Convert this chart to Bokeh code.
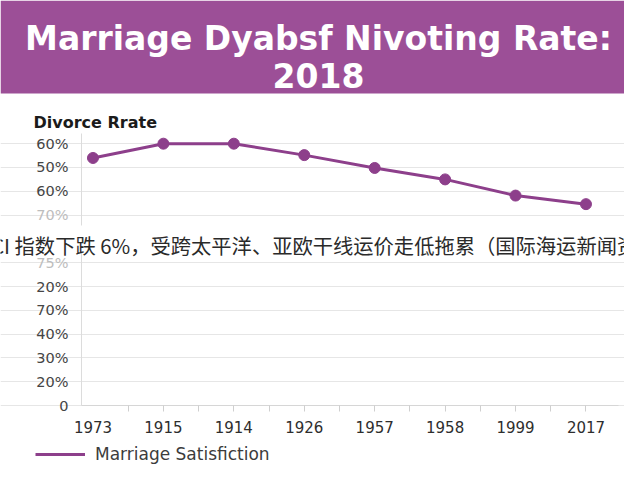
from bokeh.embed import file_html
from bokeh.models import BoxAnnotation, ColumnDataSource, FixedTicker, Label, Range1d
from bokeh.plotting import figure
from bokeh.resources import INLINE

# chart values
years = ["1973", "1915", "1914", "1926", "1957", "1958", "1999", "2017"]
divorce_rate = [52.0, 55.0, 55.0, 52.6, 49.9, 47.5, 44.1, 42.3]

y_ticks = [0, 5, 10, 15, 20, 25, 30, 35, 40, 45, 50, 55]
y_tick_labels = ["0", "20%", "30%", "40%", "70%", "20%", "75%", "80%", "70%", "60%", "50%", "60%"]
faded_ticks = [30, 40]

title_lines = ["Marriage Dyabsf Nivoting Rate:", "2018"]
subtitle = "Divorce Rrate"
series_name = "Marriage Satisfiction"
news_line = "WCI 指数下跌 6%，受跨太平洋、亚欧干线运价走低拖累（国际海运新闻资讯）"

BANNER = "#9c4f97"
LINE = "#8d3f8b"
FONT = "DejaVu Sans"
W, H = 624, 464

# one frame over the whole canvas; the axes sit inside it at fixed places
x = list(range(len(years)))
src = ColumnDataSource(dict(x=x, rate=divorce_rate))

x_lo, x_hi = -0.163, 7.46      # ends of the plotting area
y_top = 57.1

p = figure(width=W, height=H, x_range=Range1d(-1.313, 7.547), y_range=Range1d(-12.39, 85.08),
           toolbar_location=None, output_backend="svg", min_border=0,
           outline_line_color=None)

# banner
p.add_layout(BoxAnnotation(bottom=371, bottom_units="screen", fill_color=BANNER,
                           fill_alpha=1, line_color=None, level="underlay"))
for txt, base in zip(title_lines, [426, 389]):
    p.add_layout(Label(x=318, y=base, x_units="screen", y_units="screen",
                       text=txt, text_align="center", text_baseline="alphabetic",
                       text_color="white", text_font=FONT, text_font_style="bold",
                       text_font_size="33px"))

p.line("x", "rate", source=src, line_color=LINE, line_width=3, legend_label=series_name)
p.scatter("x", "rate", source=src, size=11, fill_color=LINE, line_color=LINE)

p.xaxis.fixed_location = 0
p.xaxis.bounds = (x_lo, x_hi)
p.xaxis.ticker = FixedTicker(ticks=x, minor_ticks=[i / 2 for i in range(1, 15)])
p.xaxis.major_label_overrides = {i: yr for i, yr in enumerate(years)}
p.xaxis.axis_line_color = "#d6d6d6"
p.xaxis.major_tick_line_color = None
p.xaxis.major_tick_out = 6
p.xaxis.minor_tick_line_color = "#cfcfcf"
p.xaxis.minor_tick_in = 0
p.xaxis.minor_tick_out = 6
p.xaxis.major_label_standoff = 9
p.xaxis.major_label_text_font = FONT
p.xaxis.major_label_text_font_size = "15px"
p.xaxis.major_label_text_color = "#2e2e2e"
p.xgrid.visible = False

p.yaxis.fixed_location = x_lo
p.yaxis.bounds = (0, y_top)
p.yaxis.ticker = FixedTicker(ticks=y_ticks)
p.yaxis.major_label_overrides = {t: ("" if t in faded_ticks else lab)
                                 for t, lab in zip(y_ticks, y_tick_labels)}
p.yaxis.axis_line_color = "#dcdcdc"
p.yaxis.major_tick_line_color = None
p.yaxis.minor_tick_line_color = None
p.yaxis.major_tick_in = 0
p.yaxis.major_tick_out = 0
p.yaxis.major_label_standoff = 13
p.yaxis.major_label_text_font = FONT
p.yaxis.major_label_text_font_size = "14.5px"
p.yaxis.major_label_text_color = "#454545"
p.ygrid.grid_line_color = "#e6e6e6"
p.ygrid.bounds = (x_lo, x_hi)

# white strip with the news line running across the chart
p.add_layout(BoxAnnotation(top=239, bottom=212, top_units="screen", bottom_units="screen",
                           fill_color="white", fill_alpha=1, line_color=None))
p.add_layout(Label(x=-27, y=220, x_units="screen", y_units="screen", text=news_line,
                   text_baseline="middle", text_font="Noto Sans CJK SC", text_font_size="20.3px",
                   text_color="#2a2a2a"))

for t in faded_ticks:
    p.add_layout(Label(x=68, y=t, x_units="screen", text=y_tick_labels[y_ticks.index(t)],
                       text_align="right", text_baseline="middle", text_color="#bdbdbd",
                       text_font=FONT, text_font_size="14.5px"))

p.add_layout(Label(x=33, y=342, x_units="screen", y_units="screen", text=subtitle,
                   text_baseline="alphabetic", text_font=FONT, text_font_style="bold",
                   text_font_size="16px", text_color="#1b1b1b"))

leg = p.legend[0]
leg.location = (35, 0)
leg.padding = 0
leg.margin = 0
leg.border_line_color = None
leg.background_fill_alpha = 0
leg.glyph_width = 50
leg.glyph_height = 20
leg.label_standoff = 10
leg.label_text_font = FONT
leg.label_text_font_size = "17px"
leg.label_text_color = "#3c3c3c"

open("out.html", "w", encoding="utf-8").write(file_html(p, INLINE))
